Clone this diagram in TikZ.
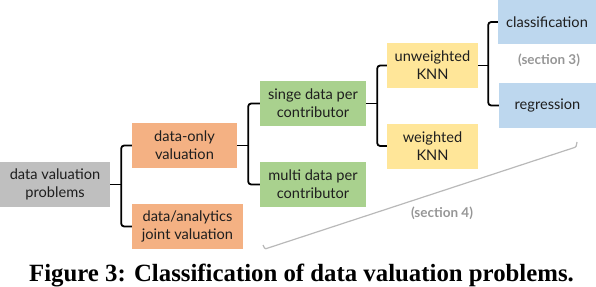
\documentclass[tikz,border=0pt]{standalone}
\usepackage{fontspec}
\setmainfont{Lato}
\newfontfamily\capfont{Liberation Serif}
\usetikzlibrary{calc}
\definecolor{cgray}{RGB}{191,191,191}
\definecolor{corange}{RGB}{244,177,131}
\definecolor{cgreen}{RGB}{169,209,142}
\definecolor{cyellow}{RGB}{255,230,153}
\definecolor{cblue}{RGB}{189,215,238}
\definecolor{ctext}{RGB}{30,30,30}
\definecolor{csec}{RGB}{150,150,150}
\definecolor{cline}{RGB}{185,185,185}
\begin{document}
\begin{tikzpicture}[x=1pt,y=-1pt,
  box/.style={inner sep=0pt, minimum height=45pt, align=center,
    font=\fontsize{14.6}{18}\selectfont, text=ctext},
  bracket/.style={draw=black, line width=1.8pt, rounded corners=3pt},
  sec/.style={font=\fontsize{13.5}{16}\selectfont\bfseries, text=csec}]
\useasboundingbox (0,0) rectangle (596,286);
\node[box, fill=cgray, minimum width=110pt] (root) at (55,184.5) {data valuation\\problems};
\node[box, fill=corange, minimum width=105pt] (donly) at (184.5,145.5) {data-only\\valuation};
\node[box, fill=corange, minimum width=111pt] (joint) at (187.5,226.5) {data/analytics\\joint valuation};
\node[box, fill=cgreen, minimum width=106pt] (single) at (313,103.5) {singe data per\\contributor};
\node[box, fill=cgreen, minimum width=106pt] (multi) at (313,184.5) {multi data per\\contributor};
\node[box, fill=cyellow, minimum width=91pt] (unw) at (432.5,65.5) {unweighted\\KNN};
\node[box, fill=cyellow, minimum width=91pt] (wei) at (432.5,146) {weighted\\KNN};
\node[box, fill=cblue, minimum width=98pt, minimum height=44pt] (cls) at (547,22) {classification};
\node[box, fill=cblue, minimum width=97pt] (reg) at (547.5,105.5) {regression};
\node[sec] (s3) at (549,60) {(section 3)};
\node[sec] (s4) at (442,213) {(section 4)};
% brackets
\coordinate (j1) at ($(root.east)+(11,0)$);
\draw[bracket] (donly.west) -| (j1) |- (joint.west);
\draw[bracket] (root.east) -- (j1);
\coordinate (j2) at ($(donly.east)+(11,0)$);
\draw[bracket] (single.west) -| (j2) |- (multi.west);
\draw[bracket] (donly.east) -- (j2);
\coordinate (j3) at ($(single.east)+(11,0)$);
\draw[bracket] (unw.west) -| (j3) |- (wei.west);
\draw[bracket] (single.east) -- (j3);
\coordinate (j4) at ($(unw.east)+(10,0)$);
\draw[bracket] (cls.west) -| (j4) |- (reg.west);
\draw[bracket] (unw.east) -- (j4);
% section 4 line
\coordinate (la) at (263,245);
\coordinate (lb) at (265,249);
\coordinate (lc) at (576,147);
\coordinate (ld) at (577,142);
\draw[cline, line width=1.2pt, rounded corners=1pt] (la) -- (lb) -- (lc) -- (ld);
% caption
\node[font=\capfont\bfseries\fontsize{24.8}{28}\selectfont, anchor=base] (cap) at (301.5,281) {Figure 3: Classification of data valuation problems.};
\end{tikzpicture}
\end{document}
